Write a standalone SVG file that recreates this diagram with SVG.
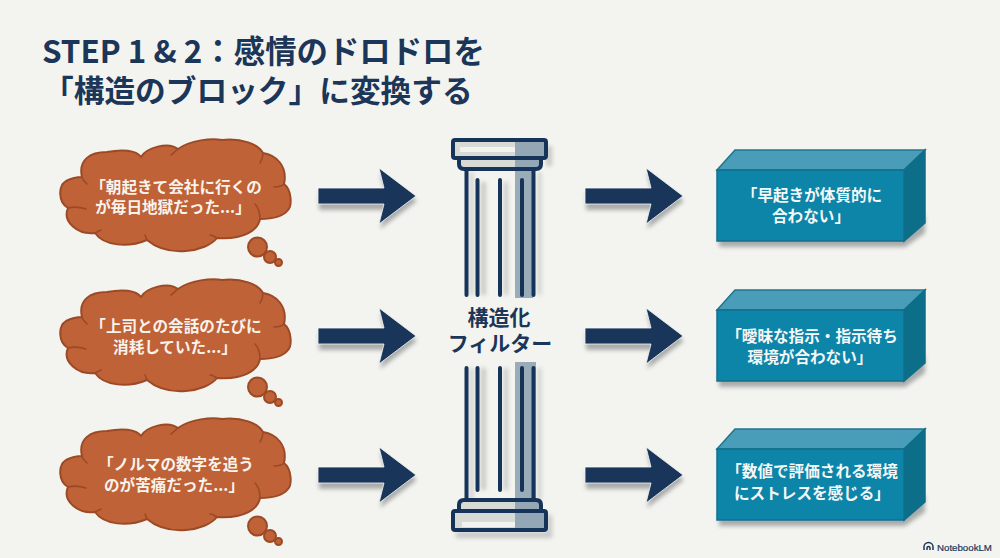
<svg xmlns="http://www.w3.org/2000/svg" width="1000" height="558" viewBox="0 0 1000 558">
<style>
text{font-family:"Noto Sans CJK JP","Noto Sans",sans-serif;font-weight:700}
.t{font-size:31px;fill:#1b3658}
.c{font-size:15.600px;fill:#f8f3ec;text-anchor:middle}
.b{font-size:15.600px;fill:#f4f8f8;text-anchor:middle}
.f{font-size:21px;fill:#1b3658;text-anchor:middle}
.cl{fill:#bf6237;stroke:#9c4a26;stroke-width:2;stroke-linejoin:round}
.cr{fill:none;stroke:#9c4a26;stroke-width:1.600;stroke-linecap:round}
.ln{fill:none;stroke:#16345a;stroke-width:4;stroke-linecap:round}
.fr{fill:none;stroke:#16345a;stroke-width:4;stroke-linejoin:round}
.sh{fill:#a9abaa;filter:url(#soft)}
</style>
<defs>
<filter id="soft" x="-40%" y="-40%" width="180%" height="180%"><feGaussianBlur stdDeviation="2"/></filter>
<g id="cloud">
<path class="cl" d="M82 177C78 160 90 152 107 152C122 149 136 150 141 157C146 148 168 141 178 149C190 140 212 138 222 140C242 138 258 144 263 153C276 155 288 166 284 184C292 190 292 206 288 210C282 218 270 219 260 219C258 230 244 240 217 238C206 252 168 258 147 240C128 248 104 246 95 233C78 235 62 222 68 208C58 202 58 186 66 181C72 178 78 177 82 177Z"/>
<path class="cr" d="M82 177C82 178 84 181 87 184M178 149C176 150 174 153 171 155M263 153C263 157 262 160 260 163M284 184C281 187 278 187 274 187M260 219C260 212 258 207 255 204M217 238C215 237 213 235 210 235M147 240C146 238 146 237 145 235M95 233C97 232 99 231 101 230M68 208C72 207 80 207 86 209"/>
<circle class="cl" cx="257.500" cy="247" r="9.500"/>
<circle class="cl" cx="270" cy="257" r="6"/>
<circle class="cl" cx="278.500" cy="262.500" r="3.500"/>
</g>
<g id="arrow">
<path class="sh" d="M0 -9H66L61 -28L98 0L61 28L66 9H0Z" transform="translate(1,5)"/>
<path d="M0 -8H66L61 -28L98 0L61 28L66 8H0Z" fill="#19355a" stroke="#f8f9f6" stroke-width=".8"/>
</g>
<g id="block">
<path class="sh" d="M0 -10H186L206 -28V-10L186 4H0Z" transform="translate(2,2)"/>
<path d="M0 -71L18 -91H208L187 -71Z" fill="#4a9db8" stroke="#1f7590" stroke-width="1.500"/>
<path d="M187 -71L208 -91V-18L187 0Z" fill="#0d6e8a" stroke="#0d6e8a" stroke-width="1.500"/>
<rect x="0" y="-71" width="187" height="71" fill="#0c85a8" stroke="#136f8b" stroke-width="1.500"/>
</g>
</defs>
<rect id="bg" width="1000" height="558" fill="#f3f4ef"/>
<g id="title">
<text class="t"><tspan x="42" y="63" font-size="31.400">STEP 1 &amp; 2：感情のドロドロを</tspan><tspan x="43" y="102" font-size="30.700">「構造のブロック」に変換する</tspan></text>
</g>
<g id="connectors">
<use href="#arrow" x="318" y="196"/>
<use href="#arrow" x="318" y="336"/>
<use href="#arrow" x="318" y="475"/>
<use href="#arrow" x="585" y="196"/>
<use href="#arrow" x="585" y="336"/>
<use href="#arrow" x="585" y="475"/>
</g>
<g id="thought-1">
<use href="#cloud"/>
<text class="c" x="176" y="193">「朝起きて会社に行くの</text>
<text class="c" x="173" y="213">が毎日地獄だった...」</text>
</g>
<g id="thought-2">
<use href="#cloud" y="140"/>
<text class="c" x="176" y="332">「上司との会話のたびに</text>
<text class="c" x="175" y="353">消耗していた...」</text>
</g>
<g id="thought-3">
<use href="#cloud" y="279"/>
<text class="c" x="176" y="470">「ノルマの数字を追う</text>
<text class="c" x="174" y="491">のが苦痛だった...」</text>
</g>
<g id="filter">
<path class="sh" d="M546 146H552V166H546ZM470 172H473V295H470ZM481 182H486V295H481ZM504 182H508V295H504ZM526 182H530V295H526ZM538 172H541V295H538Z" opacity=".6"/>
<path class="sh" d="M470 368H473V500H470ZM481 368H486V490H481ZM504 368H508V490H504ZM526 368H530V490H526ZM538 368H541V500H538ZM456 532H552V538H456ZM547 515H552V532H547Z" opacity=".6"/>
<rect x="515" y="167" width="18" height="131" fill="#9aacb8"/>
<rect x="515" y="362" width="21" height="138" fill="#9aacb8"/>
<rect x="452" y="140" width="95" height="18" fill="#d8dad6"/>
<rect x="459" y="158" width="83" height="10" fill="#d8dad6"/>
<rect x="460" y="147" width="60" height="5" fill="#f2f3ef"/>
<rect x="515" y="141" width="31" height="16" fill="#94a7b4"/>
<rect x="515" y="158" width="25" height="10" fill="#94a7b4"/>
<rect class="fr" x="453" y="140" width="93" height="18" rx="2"/>
<path class="fr" d="M459 158V164Q459 169 464 169H536Q541 169 541 164V158"/>
<path class="ln" d="M466.500 169V295M477.500 180V295M500 180V295M522 180V295M533.500 169V295"/>
<rect x="453" y="511" width="93" height="19" fill="#d8dad6"/>
<rect x="459" y="501" width="83" height="10" fill="#d8dad6"/>
<rect x="462" y="522" width="58" height="5" fill="#f2f3ef"/>
<rect x="515" y="511" width="31" height="19" fill="#94a7b4"/>
<rect x="515" y="501" width="25" height="10" fill="#94a7b4"/>
<rect class="fr" x="453" y="511" width="93" height="19" rx="2"/>
<path class="fr" d="M459 511V505Q459 500 464 500H536Q541 500 541 505V511"/>
<path class="ln" d="M466.500 368V500M477.500 368V490M500 368V490M522 368V490M533.500 368V500"/>
<text class="f"><tspan x="499" y="325">構造化</tspan><tspan x="500" y="351">フィルター</tspan></text>
</g>
<g id="block-1">
<use href="#block" x="717" y="241"/>
<text class="b" x="812" y="201">「早起きが体質的に</text>
<text class="b" x="811" y="222">合わない」</text>
</g>
<g id="block-2">
<use href="#block" x="717" y="381"/>
<text class="b" x="812" y="342">「曖昧な指示・指示待ち</text>
<text class="b" x="810" y="363">環境が合わない」</text>
</g>
<g id="block-3">
<use href="#block" x="717" y="520"/>
<text class="b" x="812" y="477">「数値で評価される環境</text>
<text class="b" x="812" y="499">にストレスを感じる」</text>
</g>
<g id="logo">
<path d="M924 550V547A4.500 4.500 0 0 1 933 547V550M927 550V548A1.500 1.500 0 0 1 930 548V550" fill="none" stroke="#1b3658" stroke-width="1.500"/>
<text x="937" y="551" font-size="9.700" fill="#1b3658" stroke="#1b3658" stroke-width=".2" style="font-family:'Liberation Sans',sans-serif;font-weight:400">NotebookLM</text>
</g>
</svg>
